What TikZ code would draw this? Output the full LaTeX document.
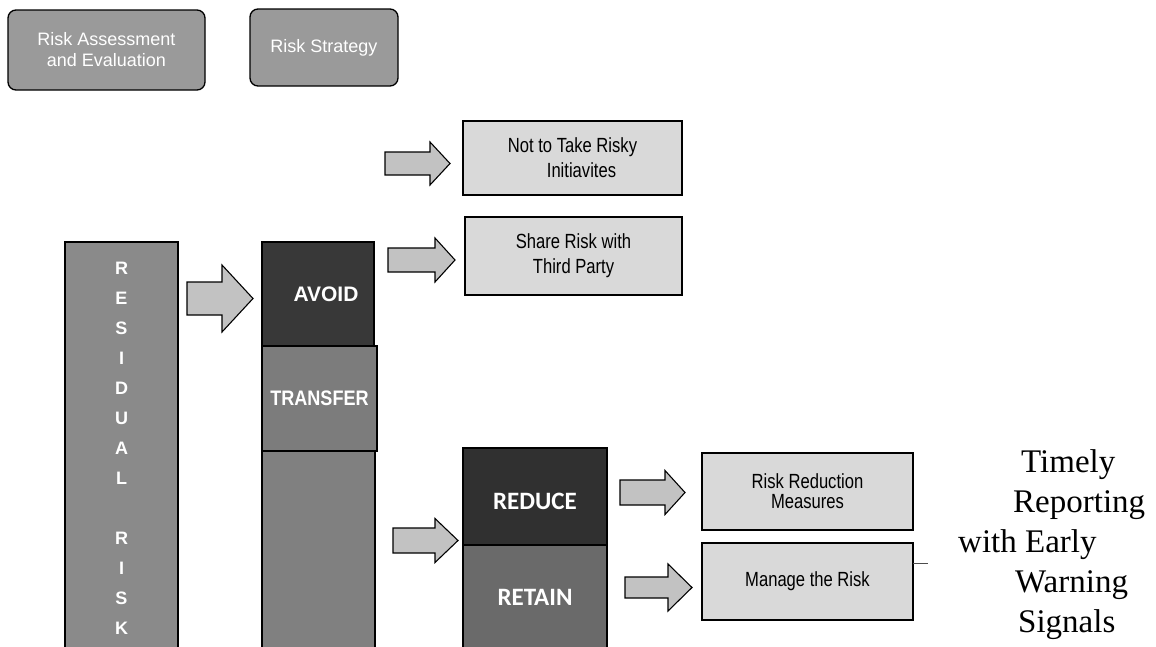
\documentclass[tikz,border=0pt]{standalone}
\usepackage{fontspec}
\setmainfont{Liberation Serif}
\newfontfamily\arialf{Liberation Sans}
\newfontfamily\narrowf[FakeStretch=0.81]{Liberation Sans}
\newfontfamily\narrowbf[FakeStretch=0.86]{Liberation Sans Bold}
\newfontfamily\arialbf{Liberation Sans Bold}
\newfontfamily\carlitobf{Carlito Bold}
\definecolor{topgray}{HTML}{9A9A9A}
\definecolor{resgray}{HTML}{8A8A8A}
\definecolor{avoidc}{HTML}{383838}
\definecolor{transc}{HTML}{7C7C7C}
\definecolor{lowc}{HTML}{808080}
\definecolor{reducec}{HTML}{303030}
\definecolor{retainc}{HTML}{6A6A6A}
\definecolor{boxc}{HTML}{D9D9D9}
\definecolor{arrowc}{HTML}{C2C2C2}
\tikzset{
  topbox/.style={draw=black, line width=1.3pt, fill=topgray, rounded corners=8pt, inner sep=0pt, outer sep=0pt, anchor=north west, text=white, align=center, font=\arialf\fontsize{18}{21}\selectfont},
  colblock/.style={draw=black, line width=1.4pt, inner sep=0pt, outer sep=0pt, anchor=north west, text=white, align=center},
  optbox/.style={draw=black, line width=1.2pt, fill=boxc, inner sep=0pt, outer sep=0pt, anchor=north west, align=center, font=\narrowf\fontsize{20.5}{25}\selectfont},
  blockarrow/.style={draw=black, line width=1.1pt, fill=arrowc, line join=miter},
}
% x1, head start, x2, y centre, body half height, head half height
\newcommand{\blockarr}[6]{%
  \draw[blockarrow] ({#1},{#4-#5}) -- ({#2},{#4-#5}) -- ({#2},{#4-#6}) -- ({#3},{#4})
    -- ({#2},{#4+#6}) -- ({#2},{#4+#5}) -- ({#1},{#4+#5}) -- cycle;}
\begin{document}
\begin{tikzpicture}[x=1pt,y=-1pt]
\useasboundingbox (0,0) rectangle (1156,646);
\begin{scope}
\clip (0,0) rectangle (1156,646);
% header boxes
\node[topbox, minimum width=197pt, minimum height=80pt] (hdr1) at (8,10) {Risk Assessment\\and Evaluation};
\node[topbox, minimum width=148pt, minimum height=77pt] (hdr2) at (250,9) {Risk Strategy};

% residual risk column
\node[colblock, fill=resgray, minimum width=113pt, minimum height=412pt,
      font=\arialbf\fontsize{18}{30}\selectfont] (resid) at (65,242)
  {R\\E\\S\\I\\D\\U\\A\\L\\[30pt]R\\I\\S\\K};

% strategy column
\node[colblock, fill=avoidc, minimum width=112pt, minimum height=104pt,
      font=\arialbf\fontsize{21}{25}\selectfont] (avoid) at (262,242) {\hspace*{16pt}AVOID};
\node[colblock, fill=transc, minimum width=115pt, minimum height=105pt,
      font=\narrowbf\fontsize{21}{25}\selectfont] (transfer) at (262,346) {TRANSFER};
\node[colblock, fill=lowc, minimum width=113pt, minimum height=200pt] (lower) at (262,451) {};

% reduce / retain column
\node[colblock, fill=reducec, minimum width=144pt, minimum height=97pt,
      font=\carlitobf\fontsize{25}{30}\selectfont, text height=26pt, text depth=0pt] (reduce) at (463,448) {REDUCE};
\node[colblock, fill=retainc, minimum width=144pt, minimum height=105pt,
      font=\carlitobf\fontsize{25}{30}\selectfont] (retain) at (463,545) {RETAIN};

% option boxes
\node[optbox, minimum width=219pt, minimum height=74pt] (opt1) at (463,121) {Not to Take Risky\\\hspace*{18pt}Initiavites};
\node[optbox, minimum width=217pt, minimum height=78pt] (opt2) at (465,217) {Share Risk with\\Third Party};
\node[optbox, minimum width=211pt, minimum height=77pt, font=\narrowf\fontsize{20.5}{20}\selectfont] (opt3) at (702,453) {Risk Reduction\\Measures};
\node[optbox, minimum width=211pt, minimum height=77pt] (opt4) at (702,543) {Manage the Risk};
\draw[black!70, line width=0.9pt] ([yshift=18.5pt]opt4.east) -- ++(15,0);

% block arrows
\blockarr{187}{222}{253}{298.5}{16.5}{33.5}
\blockarr{385}{430}{450}{163.5}{11.5}{21.5}
\blockarr{388}{435}{455}{260}{12}{22}
\blockarr{393}{435}{458}{540.5}{12.5}{22}
\blockarr{620}{665}{685}{492.5}{12.5}{22}
\blockarr{625}{668}{692}{587.5}{10.5}{23.5}

% side text
\node[anchor=west, align=left, inner sep=0pt, font=\fontsize{33}{40}\selectfont] (report) at (958,545)
  {\hspace*{63pt}Timely\\\hspace*{55pt}Reporting\\with Early\\\hspace*{57pt}Warning\\\hspace*{60pt}Signals};
\end{scope}
\end{tikzpicture}
\end{document}
